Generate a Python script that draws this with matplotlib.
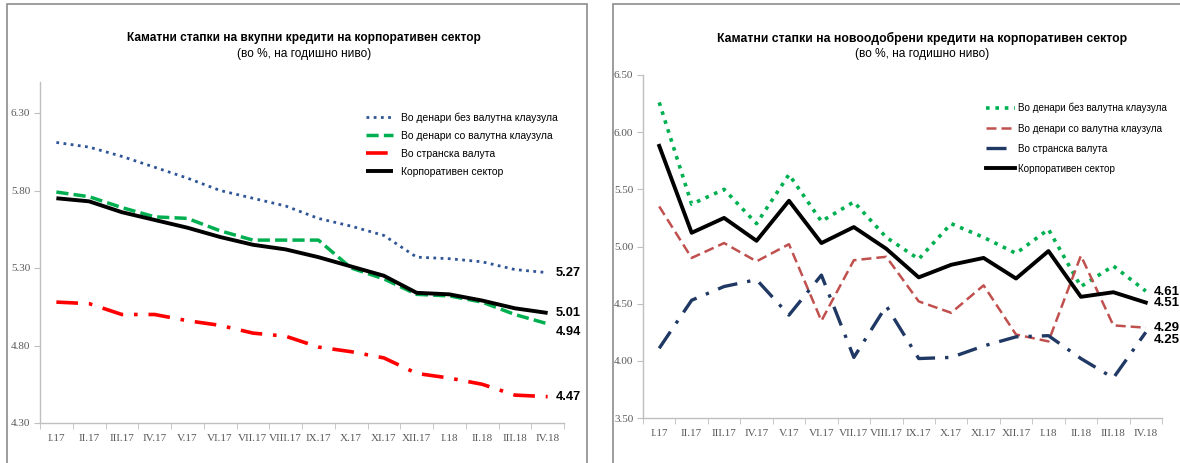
import matplotlib
matplotlib.use("Agg")
import matplotlib.pyplot as plt
from matplotlib.patches import Rectangle

plt.rcParams['font.family'] = ['Liberation Sans', 'DejaVu Sans']

categories = ["I.17", "II.17", "III.17", "IV.17", "V.17", "VI.17", "VII.17", "VIII.17",
              "IX.17", "X.17", "XI.17", "XII.17", "I.18", "II.18", "III.18", "IV.18"]

# Left chart: total loans
left_denars_no_clause = [6.11, 6.08, 6.02, 5.95, 5.88, 5.80, 5.75, 5.70, 5.62, 5.57, 5.51, 5.37, 5.36, 5.34, 5.29, 5.27]
left_denars_clause    = [5.79, 5.76, 5.69, 5.63, 5.62, 5.54, 5.48, 5.48, 5.48, 5.30, 5.23, 5.13, 5.12, 5.08, 5.00, 4.94]
left_foreign          = [5.08, 5.07, 5.00, 5.00, 4.96, 4.93, 4.88, 4.86, 4.79, 4.76, 4.72, 4.62, 4.59, 4.55, 4.48, 4.47]
left_corporate        = [5.75, 5.73, 5.66, 5.61, 5.56, 5.50, 5.45, 5.42, 5.37, 5.31, 5.25, 5.14, 5.13, 5.09, 5.04, 5.01]

# Right chart: newly approved loans
right_denars_no_clause = [6.26, 5.37, 5.50, 5.20, 5.63, 5.22, 5.39, 5.08, 4.89, 5.20, 5.08, 4.94, 5.15, 4.65, 4.83, 4.61]
right_denars_clause    = [5.35, 4.90, 5.03, 4.87, 5.02, 4.35, 4.88, 4.91, 4.52, 4.42, 4.66, 4.23, 4.17, 4.92, 4.31, 4.29]
right_foreign          = [4.11, 4.53, 4.65, 4.71, 4.40, 4.75, 4.03, 4.48, 4.02, 4.03, 4.13, 4.21, 4.22, 4.02, 3.85, 4.25]
right_corporate        = [5.88, 5.12, 5.25, 5.05, 5.40, 5.03, 5.17, 4.98, 4.73, 4.84, 4.90, 4.72, 4.96, 4.56, 4.60, 4.51]

left_yticks = [4.30, 4.80, 5.30, 5.80, 6.30]
right_yticks = [3.50, 4.00, 4.50, 5.00, 5.50, 6.00, 6.50]

series_names = ["Во денари без валутна клаузула", "Во денари со валутна клаузула",
                "Во странска валута", "Корпоративен сектор"]

left_title = "Каматни стапки на вкупни кредити на корпоративен сектор"
right_title = "Каматни стапки на новоодобрени кредити на корпоративен сектор"
subtitle = "(во %, на годишно ниво)"

W, H = 1180, 463
fig = plt.figure(figsize=(W / 100, H / 100), dpi=100)

# panel frames
border = "#8c8c8c"
fig.add_artist(Rectangle((7 / W, -0.05), (587 - 7) / W, (H - 4) / H + 0.05, transform=fig.transFigure,
                         fill=False, edgecolor=border, lw=1.2))
fig.add_artist(Rectangle((613 / W, -0.05), 1.1, (H - 4) / H + 0.05, transform=fig.transFigure,
                         fill=False, edgecolor=border, lw=1.2))

tick_color = "#595959"
axis_color = "#bfbfbf"


def style_axes(ax, yticks, ymin, ymax):
    n = len(categories)
    x = list(range(n))
    ax.set_xlim(-0.5, n - 0.5)
    ax.set_ylim(ymin, ymax)
    ax.set_yticks(yticks)
    ax.set_yticklabels([f"{v:.2f}" for v in yticks])
    ax.set_xticks(x)
    ax.set_xticklabels(categories)
    ax.set_xticks([i - 0.5 for i in range(n + 1)], minor=True)
    ax.tick_params(axis='x', which='major', length=0, pad=8, labelsize=8, labelcolor=tick_color)
    ax.tick_params(axis='x', which='minor', length=4, color=axis_color, direction='out')
    ax.tick_params(axis='y', length=4, color=axis_color, labelsize=8, labelcolor=tick_color, pad=3)
    for lab in ax.get_xticklabels() + ax.get_yticklabels():
        lab.set_family(['Liberation Serif', 'DejaVu Serif'])
    for s in ['top', 'right']:
        ax.spines[s].set_visible(False)
    for s in ['left', 'bottom']:
        ax.spines[s].set_color(axis_color)
        ax.spines[s].set_linewidth(1.0)
    ax.patch.set_alpha(0)
    return x


# ---------- Left chart ----------
axL = fig.add_axes([40 / W, (H - 423) / H, (564 - 40) / W, (423 - 82) / H])
x = style_axes(axL, left_yticks, 4.30, 6.50)
hl = []
hl.append(axL.plot(x, left_denars_no_clause, color="#2f5597", lw=2.0, linestyle=(0, (1, 1.6)))[0])
hl.append(axL.plot(x, left_denars_clause, color="#00b050", lw=2.5, linestyle=(0, (3.5, 1.5)))[0])
hl.append(axL.plot(x, left_foreign, color="#ff0000", lw=2.6, linestyle=(0, (6, 3, 1, 3)))[0])
hl.append(axL.plot(x, left_corporate, color="#000000", lw=2.8, solid_capstyle='butt')[0])

labels_L = [(left_denars_no_clause[-1], 0.0), (left_corporate[-1], 0.0),
            (left_denars_clause[-1], -0.05), (left_foreign[-1], 0.0)]
for v, off in labels_L:
    axL.annotate(f"{v:.2f}", xy=(x[-1], v + off), xytext=(6, 0), textcoords='offset points',
                 ha='left', va='center', fontsize=9.3, fontweight='bold', color='black',
                 annotation_clip=False)

fig.legend(hl, series_names, loc='upper left', bbox_to_anchor=(362 / W, 1 - 108 / H),
           frameon=False, fontsize=7.5, handlelength=2.6, handletextpad=0.75,
           labelspacing=0.78, borderaxespad=0)

fig.text(304 / W, 1 - 38 / H, left_title, ha='center', va='center', fontsize=8.6, fontweight='bold')
fig.text(304 / W, 1 - 54 / H, subtitle, ha='center', va='center', fontsize=8.6)

# ---------- Right chart ----------
axR = fig.add_axes([643 / W, (H - 418) / H, (1162 - 643) / W, (418 - 75) / H])
x = style_axes(axR, right_yticks, 3.50, 6.50)
hr = []
hr.append(axR.plot(x, right_denars_no_clause, color="#00b050", lw=2.6, linestyle=(0, (1, 1.6)))[0])
hr.append(axR.plot(x, right_denars_clause, color="#c0504d", lw=1.8, linestyle=(0, (4, 2)))[0])
hr.append(axR.plot(x, right_foreign, color="#1f3864", lw=2.4, linestyle=(0, (6, 3, 1, 3)))[0])
hr.append(axR.plot(x, right_corporate, color="#000000", lw=2.8)[0])

labels_R = [(right_denars_no_clause[-1], -0.01), (right_corporate[-1], 0.0),
            (right_denars_clause[-1], 0.0), (right_foreign[-1], -0.07)]
for v, off in labels_R:
    axR.annotate(f"{v:.2f}", xy=(x[-1], v + off), xytext=(6, 0), textcoords='offset points',
                 ha='left', va='center', fontsize=9.5, fontweight='bold', color='black',
                 annotation_clip=False)

fig.legend(hr, series_names, loc='upper left', bbox_to_anchor=(982 / W, 1 - 99 / H),
           frameon=False, fontsize=7.1, handlelength=2.9, handletextpad=0.3,
           labelspacing=1.03, borderaxespad=0)

fig.text(922 / W, 1 - 38 / H, right_title, ha='center', va='center', fontsize=8.8, fontweight='bold')
fig.text(922 / W, 1 - 54 / H, subtitle, ha='center', va='center', fontsize=8.6)

fig.savefig("out.png", dpi=100)
